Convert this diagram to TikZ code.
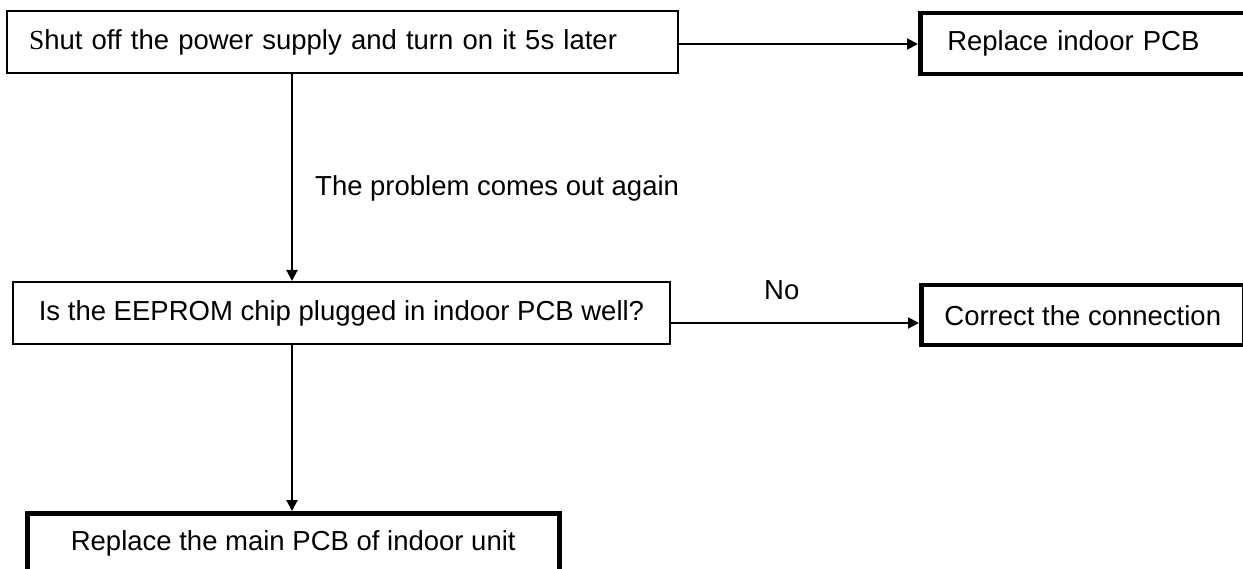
\documentclass[tikz,border=0pt]{standalone}
\usepackage{fontspec}
\setmainfont{Liberation Sans}
\newfontfamily\serifS{Liberation Serif}
\usetikzlibrary{arrows.meta,calc}
\begin{document}
\begin{tikzpicture}[x=1pt,y=-1pt,
  every node/.style={font=\fontsize{27.5}{33}\selectfont},
  thinbox/.style={draw,line width=2pt,rectangle,inner ysep=0pt},
  thickbox/.style={draw,line width=4.5pt,rectangle,inner ysep=0pt},
  lbl/.style={inner sep=0pt},
  arr/.style={line width=2pt,-{Triangle[length=11pt,width=11pt]}}]
\useasboundingbox (0,0) rectangle (1243,569);
\clip (0,0) rectangle (1243,569);
\fill[white] (0,0) rectangle (1243,569);
\coordinate (cx) at (292,0);
\node[thinbox,anchor=north west,minimum height=62pt,text width=627pt,inner xsep=22pt,align=left] (b1) at (6,10)
  {{\serifS S}hut off the power supply and turn on it 5s later};
\node[thickbox,anchor=north west,minimum height=61pt,text width=350pt,inner xsep=27pt,align=left] (r1) at (918,11)
  {Replace indoor PCB};
\node[thinbox,anchor=north west,minimum width=657pt,minimum height=62pt,inner xsep=0pt] (b2) at (12,281)
  {Is the EEPROM chip plugged in indoor PCB well?};
\node[thickbox,anchor=north west,minimum width=323pt,minimum height=60pt,inner xsep=0pt] (c2) at (919,283)
  {Correct the connection};
\node[thickbox,anchor=north west,minimum width=532pt,minimum height=61pt,inner xsep=0pt] (b3) at (25,511)
  {Replace the main PCB of indoor unit};
\node[lbl,anchor=base west] (l1) at (315,196) {The problem comes out again};
\node[lbl,anchor=base west] (l2) at (764,300) {No};
\draw[arr] ([yshift=-2pt]b1.east) -- ([yshift=-2pt]b1.east -| r1.west);
\draw[arr] (b1.south -| cx) -- (b2.north -| cx);
\draw[arr] ([yshift=-10pt]b2.east) -- ([yshift=-10pt]b2.east -| c2.west);
\draw[arr] (b2.south -| cx) -- (b3.north -| cx);
\end{tikzpicture}
\end{document}
